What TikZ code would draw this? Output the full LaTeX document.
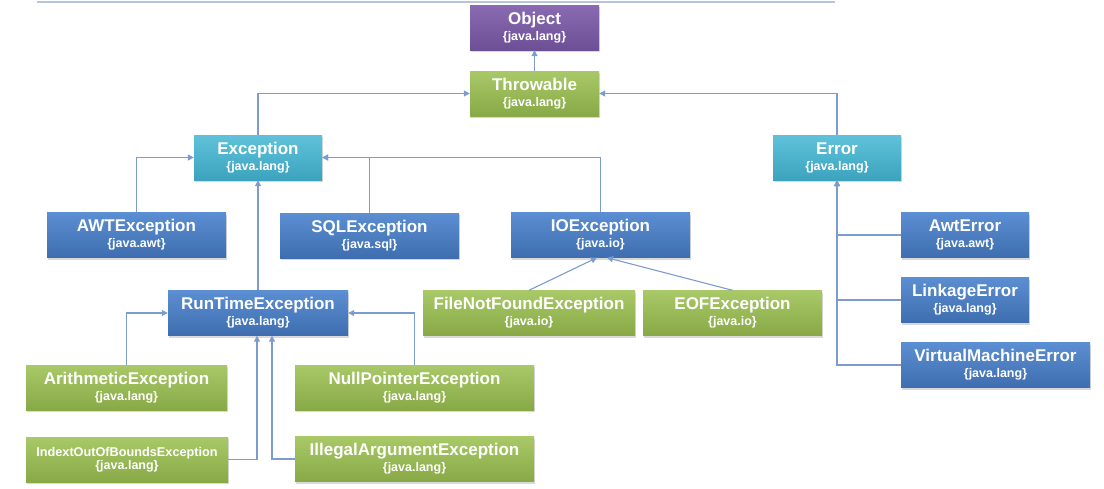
\documentclass[tikz,border=0pt]{standalone}
\usepackage{fontspec}
\setmainfont{Liberation Sans}
\usepackage{tikz}
\usetikzlibrary{arrows.meta,shadows}

\definecolor{objtop}{HTML}{8A6BB3}
\definecolor{objbot}{HTML}{6C4F94}
\definecolor{grntop}{HTML}{A9C968}
\definecolor{grnbot}{HTML}{88A946}
\definecolor{teltop}{HTML}{5FC2DA}
\definecolor{telbot}{HTML}{3CA3BE}
\definecolor{blutop}{HTML}{5B8ED2}
\definecolor{blubot}{HTML}{3E6EAF}
\definecolor{linkblue}{HTML}{7C9CCF}
\definecolor{edge}{HTML}{B7C5DC}

\newcommand{\pkg}[1]{{\fontsize{12.5}{14}\selectfont\{#1\}}}

\begin{document}
\begin{tikzpicture}[
		x=1pt, y=-1pt,
		cls/.style={rectangle, minimum height=45pt, inner sep=0pt, align=center, text=white,
			font=\fontsize{17}{16}\selectfont\bfseries,
			drop shadow={opacity=0.3, shadow xshift=1pt, shadow yshift=-2pt}},
		objbox/.style={cls, top color=objtop, bottom color=objbot},
		grnbox/.style={cls, top color=grntop, bottom color=grnbot},
		telbox/.style={cls, top color=teltop, bottom color=telbot},
		blubox/.style={cls, top color=blutop, bottom color=blubot},
		arrow/.style={-{Triangle[length=6pt,width=6pt]}, draw=linkblue, line width=1.1pt}
	]
		\useasboundingbox (0,0) rectangle (1104,488);
		\draw[line width=1.5pt, edge] (37,2) -- (835,2);

		% Root
		\node[objbox, minimum width=129pt] (obj) at (534.5,27.5) {Object\\\pkg{java.lang}};
		\node[grnbox, minimum width=129pt] (thr) at (534.5,93.5) {Throwable\\\pkg{java.lang}};

		% Exception and Error
		\node[telbox, minimum width=128pt] (exc) at (258,157.5) {Exception\\\pkg{java.lang}};
		\node[telbox, minimum width=128pt] (err) at (837,157.5) {Error\\\pkg{java.lang}};

		% Checked exceptions
		\node[blubox, minimum width=179pt] (awt) at (136.5,235) {AWTException\\\pkg{java.awt}};
		\node[blubox, minimum width=179pt] (sql) at (369.5,235.5) {SQLException\\\pkg{java.sql}};
		\node[blubox, minimum width=179pt] (ioe) at (600.5,235) {IOException\\\pkg{java.io}};
		\node[grnbox, minimum width=212pt] (fnf) at (529,313) {FileNotFoundException\\\pkg{java.io}};
		\node[grnbox, minimum width=179pt] (eof) at (732.5,313) {EOFException\\\pkg{java.io}};

		% Runtime exceptions
		\node[blubox, minimum width=180pt] (rte) at (258,313) {RunTimeException\\\pkg{java.lang}};
		\node[grnbox, minimum width=201pt] (ari) at (126.5,387.5) {ArithmeticException\\\pkg{java.lang}};
		\node[grnbox, minimum width=239pt] (npe) at (414.5,387.5) {NullPointerException\\\pkg{java.lang}};
		\node[grnbox, minimum width=202pt, font=\fontsize{12.7}{13}\selectfont\bfseries] (ioob) at (127,459.5) {IndextOutOfBoundsException\\\pkg{java.lang}};
		\node[grnbox, minimum width=239pt] (iae) at (414.5,459) {IllegalArgumentException\\\pkg{java.lang}};

		% Errors
		\node[blubox, minimum width=128pt] (awe) at (965,235) {AwtError\\\pkg{java.awt}};
		\node[blubox, minimum width=128pt] (lnk) at (965,300) {LinkageError\\\pkg{java.lang}};
		\node[blubox, minimum width=189pt] (vme) at (995.5,365) {VirtualMachineError\\\pkg{java.lang}};

		% Arrows
		\draw[arrow] (thr) -- (obj);
		\draw[arrow] (exc.north) |- (thr.west);
		\draw[arrow] (err.north) |- (thr.east);
		\draw[arrow] (awt.north) |- (exc.west);
		\draw[arrow] (sql.north) |- (exc.east);
		\draw[arrow] (ioe.north) |- (exc.east);
		\draw[arrow] (rte) -- (exc);
		\draw[arrow] (fnf.north) -- ([xshift=-3.5pt]ioe.south);
		\draw[arrow] (eof.north) -- ([xshift=6.5pt]ioe.south);

		% Runtime arrows
		\draw[arrow] (ari.north) |- (rte.west);
		\draw[arrow] (npe.north) |- (rte.east);
		\draw[arrow] (ioob.east) -| ([xshift=-1pt]rte.south);
		\draw[arrow] (iae.west) -| ([xshift=14pt]rte.south);

		% Error arrows
		\draw[arrow] (awe.west) -| (err.south);
		\draw[arrow] (lnk.west) -| (err.south);
		\draw[arrow] (vme.west) -| (err.south);
	\end{tikzpicture}
\end{document}
